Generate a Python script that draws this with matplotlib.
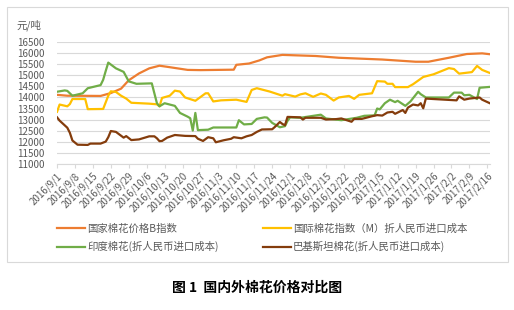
import matplotlib
matplotlib.use("Agg")
import matplotlib.pyplot as plt
import matplotlib.patches as mpatches
import pandas as pd

plt.rcParams['font.family'] = ['Noto Sans CJK SC', 'DejaVu Sans']

# 国家棉花价格B指数
b_dates = ["2016-09-01", "2016-09-05", "2016-09-18", "2016-09-22", "2016-09-26", "2016-09-29",
           "2016-10-03", "2016-10-07", "2016-10-11", "2016-10-14", "2016-10-22", "2016-10-27",
           "2016-11-09", "2016-11-10", "2016-11-15", "2016-11-19", "2016-11-22", "2016-11-28",
           "2016-12-11", "2016-12-20", "2017-01-06", "2017-01-19", "2017-01-24", "2017-02-01",
           "2017-02-08", "2017-02-14", "2017-02-17"]
b_vals = [14120, 14080, 14070, 14200, 14400, 14780,
          15090, 15320, 15440, 15390, 15250, 15240,
          15260, 15480, 15540, 15680, 15820, 15930,
          15880, 15800, 15720, 15620, 15620, 15800,
          15970, 16000, 15960]

# 国际棉花指数（M）折人民币进口成本
m_dates = ["2016-09-01", "2016-09-02", "2016-09-05", "2016-09-06", "2016-09-07", "2016-09-12",
           "2016-09-13", "2016-09-19", "2016-09-21", "2016-09-22", "2016-09-24", "2016-09-26",
           "2016-09-28", "2016-09-30", "2016-10-07", "2016-10-10", "2016-10-11", "2016-10-12",
           "2016-10-15", "2016-10-17", "2016-10-19", "2016-10-21", "2016-10-25", "2016-10-29",
           "2016-10-30", "2016-11-01", "2016-11-04", "2016-11-10", "2016-11-14", "2016-11-16",
           "2016-11-18", "2016-11-23", "2016-11-28", "2016-11-29", "2016-12-03", "2016-12-05",
           "2016-12-07", "2016-12-10", "2016-12-13", "2016-12-15", "2016-12-18", "2016-12-20",
           "2016-12-24", "2016-12-26", "2016-12-28", "2017-01-02", "2017-01-04", "2017-01-07",
           "2017-01-08", "2017-01-10", "2017-01-11", "2017-01-16", "2017-01-18", "2017-01-22",
           "2017-01-26", "2017-02-01", "2017-02-03", "2017-02-05", "2017-02-10", "2017-02-12",
           "2017-02-14", "2017-02-17"]
m_vals = [13350, 13680, 13600, 13700, 13930, 13930,
          13470, 13480, 14080, 14280, 14250, 14080,
          13950, 13760, 13720, 13690, 13600, 13980,
          14080, 14310, 14270, 14000, 13850, 14190,
          14190, 13820, 13870, 13900, 13800, 14340,
          14420, 14270, 14080, 14150, 14040, 14140,
          14190, 14030, 14180, 14120, 13860, 14000,
          14070, 13940, 14120, 14190, 14740, 14720,
          14620, 14620, 14470, 14470, 14600, 14930,
          15050, 15330, 15290, 15080, 15150, 15430,
          15250, 15110]

# 印度棉花(折人民币进口成本)
in_dates = ["2016-09-01", "2016-09-04", "2016-09-05", "2016-09-07", "2016-09-11", "2016-09-13",
            "2016-09-18", "2016-09-19", "2016-09-20", "2016-09-21", "2016-09-24", "2016-09-27",
            "2016-09-29", "2016-10-02", "2016-10-08", "2016-10-09", "2016-10-10", "2016-10-11",
            "2016-10-13", "2016-10-17", "2016-10-19", "2016-10-22", "2016-10-23", "2016-10-24",
            "2016-10-25", "2016-10-26", "2016-10-30", "2016-11-01", "2016-11-10", "2016-11-11",
            "2016-11-13", "2016-11-16", "2016-11-18", "2016-11-21", "2016-11-22", "2016-11-24",
            "2016-11-27", "2016-11-29", "2016-11-30", "2016-12-01", "2016-12-05", "2016-12-13",
            "2016-12-15", "2016-12-21", "2016-12-27", "2016-12-30", "2017-01-03", "2017-01-04",
            "2017-01-05", "2017-01-07", "2017-01-09", "2017-01-11", "2017-01-12", "2017-01-15",
            "2017-01-17", "2017-01-20", "2017-01-21", "2017-01-23", "2017-02-01", "2017-02-03",
            "2017-02-06", "2017-02-07", "2017-02-09", "2017-02-12", "2017-02-13", "2017-02-17"]
in_vals = [14260, 14320, 14300, 14080, 14190, 14420,
           14560, 14800, 15200, 15580, 15320, 15160,
           14730, 14620, 14640, 14190, 13740, 13600,
           13740, 13620, 13300, 13130, 13060, 12500,
           13300, 12520, 12540, 12640, 12640, 12970,
           12780, 12800, 13030, 13100, 13090, 12850,
           12650, 12700, 12940, 13100, 13080, 13220,
           13050, 12970, 13080, 13170, 13190, 13500,
           13460, 13740, 13900, 13790, 13850, 13620,
           13820, 14260, 14150, 14000, 14000, 14220,
           14220, 14100, 14120, 13930, 14440, 14480]

# 巴基斯坦棉花(折人民币进口成本)
pk_dates = ["2016-09-01", "2016-09-02", "2016-09-05", "2016-09-06", "2016-09-07", "2016-09-09",
            "2016-09-13", "2016-09-14", "2016-09-18", "2016-09-20", "2016-09-21", "2016-09-22",
            "2016-09-24", "2016-09-27", "2016-09-28", "2016-09-30", "2016-10-03", "2016-10-07",
            "2016-10-09", "2016-10-10", "2016-10-11", "2016-10-12", "2016-10-14", "2016-10-17",
            "2016-10-21", "2016-10-25", "2016-10-26", "2016-10-28", "2016-10-30", "2016-11-01",
            "2016-11-02", "2016-11-05", "2016-11-08", "2016-11-09", "2016-11-12", "2016-11-14",
            "2016-11-16", "2016-11-18", "2016-11-20", "2016-11-24", "2016-11-25", "2016-11-27",
            "2016-11-28", "2016-11-29", "2016-11-30", "2016-12-05", "2016-12-06", "2016-12-07",
            "2016-12-13", "2016-12-15", "2016-12-19", "2016-12-21", "2016-12-25", "2016-12-26",
            "2016-12-29", "2017-01-02", "2017-01-04", "2017-01-06", "2017-01-08", "2017-01-10",
            "2017-01-11", "2017-01-14", "2017-01-15", "2017-01-16", "2017-01-18", "2017-01-20",
            "2017-01-21", "2017-01-22", "2017-01-23", "2017-02-01", "2017-02-04", "2017-02-05",
            "2017-02-07", "2017-02-09", "2017-02-13", "2017-02-14", "2017-02-17"]
pk_vals = [13100, 12950, 12630, 12400, 12050, 11860,
           11850, 11910, 11910, 12000, 12200, 12480,
           12440, 12180, 12250, 12070, 12100, 12240,
           12240, 12150, 12020, 12030, 12180, 12300,
           12260, 12250, 12130, 12030, 12200, 12150,
           11970, 12060, 12130, 12200, 12150, 12240,
           12300, 12440, 12550, 12560, 12660, 12890,
           12800, 12740, 13120, 13100, 13000, 13080,
           13080, 13000, 13020, 13050, 12900, 13030,
           13030, 13150, 13200, 13180, 13320, 13350,
           13260, 13430, 13300, 13540, 13680, 13640,
           13740, 13510, 13950, 13890, 13870, 14050,
           13900, 13950, 14000, 13900, 13740]

series_names = ["国家棉花价格B指数", "国际棉花指数（M）折人民币进口成本",
                "印度棉花(折人民币进口成本)", "巴基斯坦棉花(折人民币进口成本)"]
series_colors = ["#ED7D31", "#FFC000", "#70AD47", "#843C0C"]

fig = plt.figure(figsize=(5.14, 3.10), dpi=100)
ax = fig.add_axes([0.111, 0.472, 0.842, 0.3915])

lines = []
for d, v, name, c in zip([b_dates, m_dates, in_dates, pk_dates],
                         [b_vals, m_vals, in_vals, pk_vals],
                         series_names, series_colors):
    ln, = ax.plot(pd.to_datetime(d), v, color=c, lw=1.6, label=name, solid_joinstyle='round')
    lines.append(ln)

ax.set_ylim(11000, 16500)
ax.set_yticks(range(11000, 16501, 500))
ax.set_xlim(pd.Timestamp("2016-09-01"), pd.Timestamp("2017-02-17"))
ticks = pd.date_range("2016-09-01", "2017-02-16", freq="7D")
ax.set_xticks(ticks)
ax.set_xticklabels([f"{t.year}/{t.month}/{t.day}" for t in ticks],
                   rotation=45, ha='right', rotation_mode='anchor')
ax.grid(axis='y', color='#D9D9D9', lw=0.8)
ax.set_axisbelow(True)
for s in ['top', 'right', 'left']:
    ax.spines[s].set_visible(False)
ax.spines['bottom'].set_color('#D9D9D9')
ax.tick_params(axis='y', length=0, pad=9, labelsize=7, labelcolor='#595959')
ax.tick_params(axis='x', length=3, color='#D9D9D9', pad=2, labelsize=7, labelcolor='#595959')

fig.text(0.033, 0.919, "元/吨", fontsize=7.5, color='#595959', va='center')

fig.legend([lines[0], lines[2], lines[1], lines[3]],
           [series_names[0], series_names[2], series_names[1], series_names[3]],
           ncol=2, loc='center', bbox_to_anchor=(0.51, 0.232), frameon=False,
           fontsize=7.5, handlelength=2.7, handletextpad=0.2, columnspacing=4.2,
           labelspacing=0.7, labelcolor='#595959')

fig.patches.append(mpatches.Rectangle((0.0136, 0.155), 0.975, 0.8226, transform=fig.transFigure,
                                      fill=False, edgecolor='#D9D9D9', lw=0.8))

fig.text(0.5, 0.071, "图 1  国内外棉花价格对比图", fontsize=10, fontweight='bold',
         ha='center', va='center')

fig.savefig("out.png", dpi=100, facecolor='white')
